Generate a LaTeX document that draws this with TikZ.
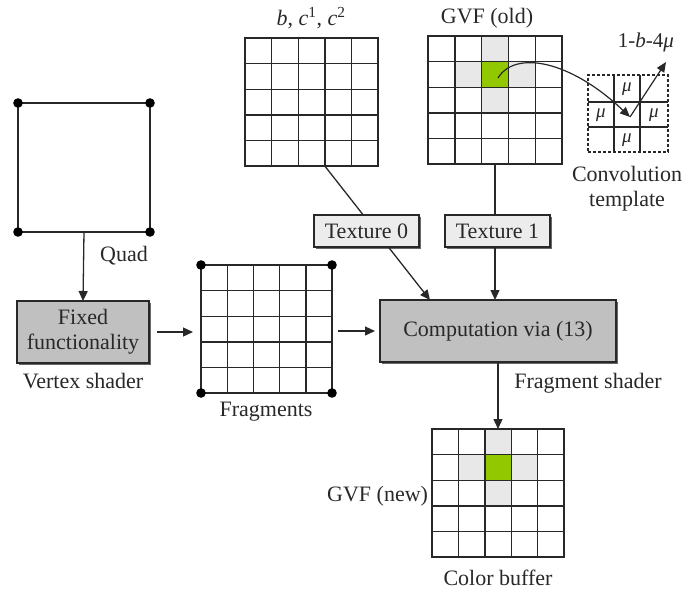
\documentclass[tikz,border=0pt]{standalone}
\usepackage{fontspec}
\setmainfont{Liberation Serif}
\usetikzlibrary{calc,arrows.meta,shadows}
\pgfdeclarelayer{bg}
\pgfsetlayers{bg,main}
\definecolor{gvfgreen}{RGB}{146,200,0}
\definecolor{lightcell}{RGB}{232,232,232}
\definecolor{boxgray}{RGB}{192,192,192}
\definecolor{texgray}{RGB}{236,236,236}
\definecolor{ink}{RGB}{40,40,40}
\newcommand\fivegrid[5]{%
  \pgfmathsetmacro\gw{#4-#2}\pgfmathsetmacro\gh{#5-#3}%
  \node[gridbox,minimum width=\gw pt,minimum height=\gh pt,anchor=north west] (#1) at (#2,#3) {};
  \foreach \k in {1,2,3,4}{
    \draw[gridln] ($(#1.north west)!\k/5!(#1.north east)$) -- ($(#1.south west)!\k/5!(#1.south east)$);
    \draw[gridln] ($(#1.north west)!\k/5!(#1.south west)$) -- ($(#1.north east)!\k/5!(#1.south east)$);
  }}
\begin{document}
\begin{tikzpicture}[x=1pt,y=-1pt,
  every node/.style={text=ink, font=\fontsize{22}{25}\selectfont, inner sep=0pt, outer sep=0pt},
  gridbox/.style={draw=ink, line width=1.6pt, rectangle},
  gridln/.style={draw=ink, line width=1.4pt},
  procbox/.style={draw=ink, line width=1.2pt, fill=boxgray, align=center,
    drop shadow={shadow xshift=1.8pt, shadow yshift=-1.8pt, fill=ink, opacity=0.7}},
  texbox/.style={draw=ink, line width=1.2pt, fill=texgray, minimum width=105pt, minimum height=32pt,
    drop shadow={shadow xshift=1.8pt, shadow yshift=-1.8pt, fill=ink, opacity=0.7}},
  conn/.style={draw=ink, line width=1.3pt},
  arr/.style={conn, -{Triangle[length=10pt,width=9pt]}},
  mu/.style={font=\fontsize{19}{20}\selectfont\itshape}
]
\useasboundingbox (0,0) rectangle (688,592);

% Quad
\node[draw=ink, line width=1.4pt, minimum width=132pt, minimum height=129pt] (quad) at (84,167.5) {};
\foreach \a in {north west,north east,south west,south east} \fill[black] (quad.\a) circle (4.8pt);
\node (quadlbl) at (124,256) {Quad};

% Fixed functionality
\node[procbox, minimum width=132pt, minimum height=62pt] (fixed) at (83,332) {Fixed\\functionality};
\node (vs) at (83,381) {Vertex shader};

% Fragments
\fivegrid{frag}{201}{265}{332}{393}
\foreach \a in {north west,north east,south west,south east} \fill[black] (frag.\a) circle (4.8pt);
\node (fraglbl) at (266,412) {Fragments};

% Computation
\node[procbox, minimum width=236pt, minimum height=62pt] (comp) at (498,331) {Computation via (13)};
\node (fs) at (588,383) {Fragment shader};

% Textures
\node[texbox] (tex0) at (366.5,231) {Texture 0};
\node[texbox] (tex1) at (497.5,231) {Texture 1};

% Grid b, c
\fivegrid{g1}{245}{38}{378}{166}
\node (g1lbl) at (311,18) {\textit{b}, \textit{c}\textsuperscript{1}, \textit{c}\textsuperscript{2}};

% GVF old
\fill[lightcell] (481.6,36) rectangle (508.4,61.6);
\fill[lightcell] (454.8,61.6) rectangle (535.2,87.2);
\fill[lightcell] (481.6,87.2) rectangle (508.4,112.8);
\fill[gvfgreen] (481.6,61.6) rectangle (508.4,87.2);
\fivegrid{g2}{428}{36}{562}{164}
\node (g2lbl) at (487,18) {GVF (old)};

% Color buffer
\fill[lightcell] (484.8,429) rectangle (511.2,454.6);
\fill[lightcell] (458.4,454.6) rectangle (537.6,480.2);
\fill[lightcell] (484.8,480.2) rectangle (511.2,505.8);
\fill[gvfgreen] (484.8,454.6) rectangle (511.2,480.2);
\fivegrid{cb}{432}{429}{564}{557}
\node[anchor=east] (cblbl) at (428,496) {GVF (new)};
\node (cbname) at (498,578) {Color buffer};

% Convolution template
\node[draw=ink, line width=1.5pt, dash pattern=on 3pt off 2pt, minimum width=80pt, minimum height=77pt] (tmpl) at (628,113.5) {};
\draw[ink, line width=1.8pt] (614,75) -- (614,152) (640,75) -- (640,152) (588,102) -- (668,102) (588,127) -- (668,127);
\node[mu] at (627,89) {μ};
\node[mu] at (601,115) {μ};
\node[mu] at (654,115) {μ};
\node[mu] at (627,140) {μ};
\node[align=center] (tmpllbl) at (627,189) {Convolution\\template};
\node[font=\fontsize{21}{24}\selectfont] (onebf) at (646,42) {1-\textit{b}-4\textit{μ}};

\coordinate (gc) at (498,78);
\coordinate (tc) at (630,117);
\coordinate (te) at (666,62);
\draw[draw=ink, line width=1.2pt, -{Triangle[length=10pt,width=8.5pt]}] (gc) .. controls (515,50) and (570,60) .. (tc);
\draw[draw=ink, line width=1.2pt, -{Triangle[length=10pt,width=8.5pt]}] (tc) -- (te);

% Connectors
\begin{pgfonlayer}{bg}
\draw[arr] (quad.south) -- (fixed.north);
\draw[arr, shorten <=8pt, shorten >=8pt] (fixed.east) -- (fixed.east -| frag.west);
\draw[arr, shorten <=6pt, shorten >=5pt] (frag.east |- comp.west) -- (comp.west);
\coordinate (g1s) at ($(g1.south west)!0.6!(g1.south east)$);
\coordinate (c0) at ($(comp.north west)+(50,0)$);
\draw[arr] (g1s) -- (c0);
\draw[arr] (g2.south) -- (g2.south |- comp.north);
\draw[arr] (comp.south) -- (cb.north);
\end{pgfonlayer}
\end{tikzpicture}
\end{document}
